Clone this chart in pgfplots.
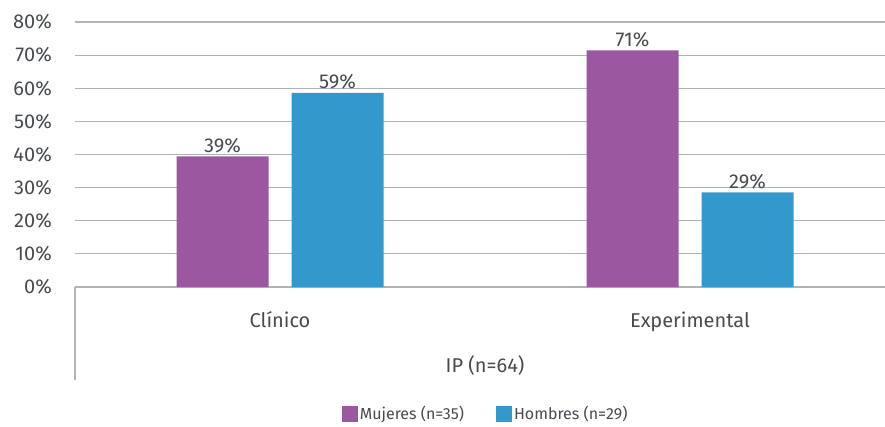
\documentclass[border=0pt]{standalone}
\usepackage{fontspec}
\setmainfont{Fira Sans}
\usepackage{pgfplots}
\pgfplotsset{compat=1.18}
\definecolor{muj}{HTML}{9B57A0}
\definecolor{hom}{HTML}{3399CC}
\definecolor{gridc}{HTML}{B0B3B7}
\definecolor{txt}{HTML}{474B51}
\begin{document}
\begin{tikzpicture}
\begin{axis}[
 scale only axis, width=810pt, height=265pt,
 xmin=-0.5, xmax=1.4756, ymin=0, ymax=80,
 ybar=23pt, bar width=92pt,
 xtick={0,1}, xticklabels={Clínico,Experimental},
 ytick={0,10,...,80},
 yticklabel={\pgfmathprintnumber{\tick}\%},
 /pgf/number format/assume math mode=true,
 ymajorgrids, grid style={gridc, line width=1.2pt},
 axis line style={draw=none}, major tick length=0pt,
 tick label style={font=\fontsize{20}{24}\selectfont, text=txt},
 yticklabel style={anchor=east, inner sep=0pt, xshift=-23pt},
 xticklabel style={anchor=base, inner sep=0pt, yshift=-40pt},
 nodes near coords={\pgfmathprintnumber[fixed,precision=0]{\pgfplotspointmeta}\%},
 every node near coord/.append style={font=\fontsize{20}{24}\selectfont, text=txt, anchor=base, inner sep=0pt, yshift=4pt},
 legend style={at={(0.507,-0.479)}, anchor=center, draw=none, legend columns=2, font=\fontsize{16}{19}\selectfont, text=txt, cells={anchor=west}, nodes={inner sep=2pt}, /tikz/every even column/.append style={column sep=30pt}},
 clip=false,
]
\addplot[fill=muj, draw=none, legend image code/.code={\fill[muj] (0pt,-8pt) rectangle (16pt,8pt);}] coordinates {(0,39.4) (1,71.4)};
\addlegendentry{Mujeres (n=35)}
\addplot[fill=hom, draw=none, legend image code/.code={\fill[hom] (0pt,-8pt) rectangle (16pt,8pt);}] coordinates {(0,58.6) (1,28.6)};
\addlegendentry{Hombres (n=29)}
\draw[gridc, line width=1.2pt] (axis cs:-0.5,0) -- ([yshift=-93pt]axis cs:-0.5,0);
\node[font=\fontsize{20}{24}\selectfont, text=txt, anchor=base] at ([yshift=-85pt]axis cs:0.5,0) {IP (n=64)};
\coordinate (bl) at (rel axis cs:0,0);
\end{axis}
\pgfresetboundingbox
\path[use as bounding box] ([shift={(-75pt,-139pt)}]bl) rectangle ([shift={(810pt,287pt)}]bl);
\end{tikzpicture}
\end{document}
